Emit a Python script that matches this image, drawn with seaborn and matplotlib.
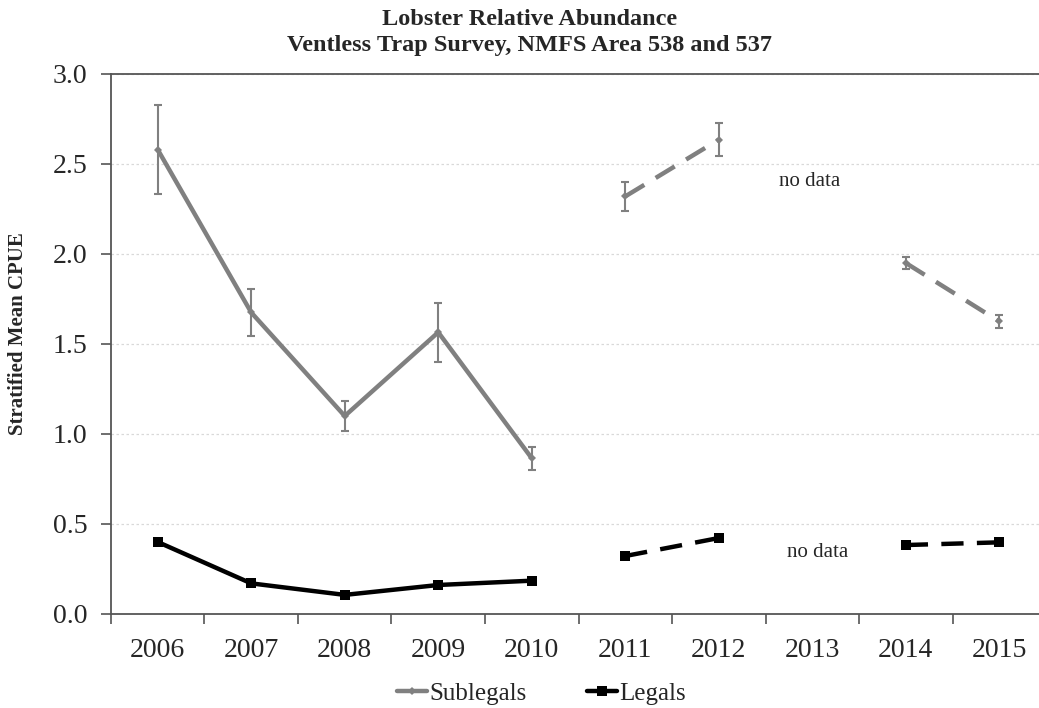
import numpy as np
import pandas as pd
import matplotlib
matplotlib.use("Agg")
import matplotlib.pyplot as plt
from matplotlib.lines import Line2D
import seaborn as sns

years = [2006, 2007, 2008, 2009, 2010, 2011, 2012, 2013, 2014, 2015]
sublegals = [2.58, 1.675, 1.10, 1.565, 0.865, 2.32, 2.635, np.nan, 1.95, 1.625]
sublegals_se = [0.245, 0.13, 0.084, 0.163, 0.065, 0.08, 0.09, np.nan, 0.033, 0.037]
legals = [0.40, 0.17, 0.106, 0.161, 0.185, 0.322, 0.422, np.nan, 0.383, 0.398]
# survey period each year belongs to (2013 not sampled)
period = ["A", "A", "A", "A", "A", "B", "B", None, "C", "C"]

df = pd.DataFrame({
    "year": years,
    "pos": np.arange(len(years)),
    "Sublegals": sublegals,
    "se": sublegals_se,
    "Legals": legals,
    "period": period,
})

sns.set_theme(style="white")
plt.rcParams["font.family"] = ["Liberation Serif", "DejaVu Serif"]

fig = plt.figure(figsize=(10.39, 7.08), dpi=100)
ax = fig.add_axes([0.1068, 0.1328, 0.900, 0.7627])

grey = "#808080"
styles = {"A": "-", "B": (0, (5, 3)), "C": (0, (5, 3))}

for per, sub in df.dropna(subset=["period"]).groupby("period"):
    sns.lineplot(data=sub, x="pos", y="Sublegals", ax=ax, color=grey,
                 linewidth=3.2, linestyle=styles[per], marker="D",
                 markersize=4, markeredgewidth=0, sort=True, legend=False)
    sns.lineplot(data=sub, x="pos", y="Legals", ax=ax, color="black",
                 linewidth=3.2, linestyle=styles[per], marker="s",
                 markersize=6.5, markeredgewidth=0, sort=True, legend=False)

ax.errorbar(df["pos"], df["Sublegals"], yerr=df["se"], fmt="none",
            ecolor=grey, elinewidth=1.5, capsize=3, capthick=1.5, zorder=3)

ax.text(6.976, 2.405, "no data", ha="center", va="center", fontsize=15)
ax.text(7.06, 0.339, "no data", ha="center", va="center", fontsize=15)

ax.set_xlim(-0.5, 9.5)
ax.set_ylim(0, 3.0)
yt = np.arange(0, 3.01, 0.5)
ax.set_yticks(yt)
ax.set_yticklabels([f"{v:.1f}" for v in yt], fontsize=20)
ax.set_xticks(df["pos"])
ax.set_xticklabels([str(y) for y in years], fontsize=20)
ax.set_xticks(np.arange(-0.5, 9.6, 1.0), minor=True)
ax.tick_params(axis="x", which="major", length=0, pad=17)
ax.tick_params(axis="x", which="minor", length=7, width=1.2, color="#555555",
               direction="out", bottom=True)
ax.tick_params(axis="y", which="major", length=7, width=1.2, color="#555555",
               direction="out", left=True, pad=10)

ax.yaxis.grid(True, color="#d9d9d9", linestyle=(0, (2, 2)), linewidth=0.9)
ax.set_axisbelow(True)
for s in ax.spines.values():
    s.set_color("#555555")
    s.set_linewidth(1.3)

ax.set_xlabel("")
ax.set_ylabel("Stratified Mean CPUE", fontsize=15, fontweight="bold")
ax.yaxis.set_label_coords(-0.089, 0.52)

fig.text(0.510, 0.973, "Lobster Relative Abundance",
         ha="center", va="center", fontsize=17.5, fontweight="bold")
fig.text(0.510, 0.936, "Ventless Trap Survey, NMFS Area 538 and 537",
         ha="center", va="center", fontsize=17.5, fontweight="bold")

handles = [
    Line2D([], [], color=grey, linewidth=3.2, marker="D", markersize=4,
           markeredgewidth=0, label="Sublegals"),
    Line2D([], [], color="black", linewidth=3.2, marker="s", markersize=6.5,
           markeredgewidth=0, label="Legals"),
]
fig.legend(handles=handles, loc="center", bbox_to_anchor=(0.521, 0.02), ncol=2,
           frameon=False, fontsize=18, handlelength=1.2, handletextpad=0.1,
           columnspacing=2.4, borderpad=0)

fig.savefig("out.png", dpi=100)
